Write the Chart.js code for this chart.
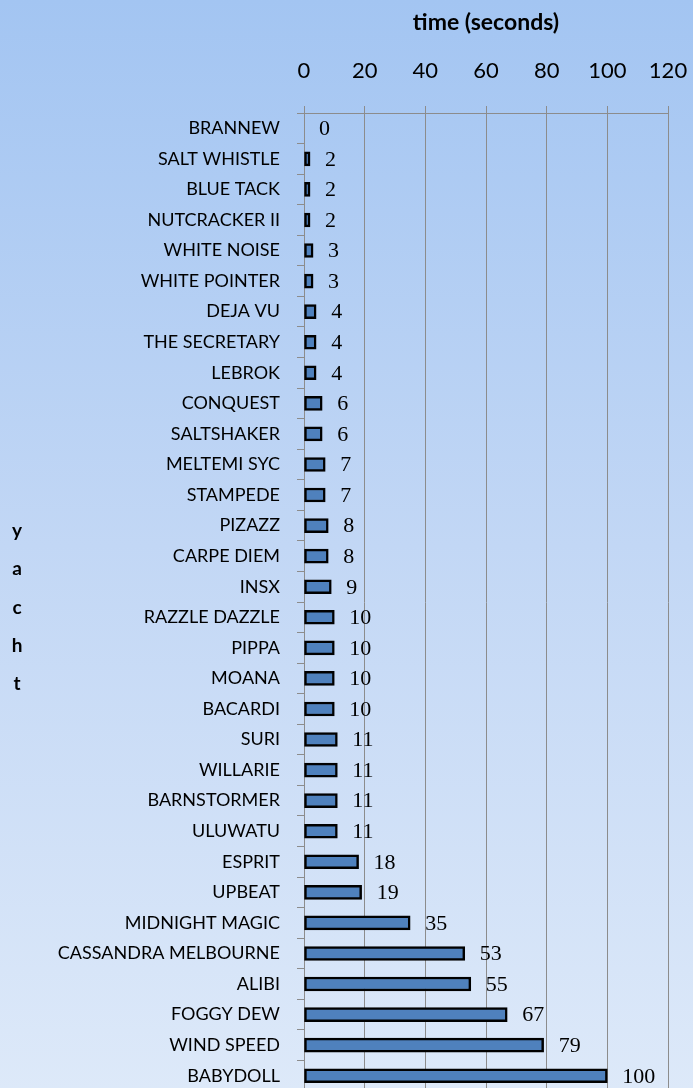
<!DOCTYPE html>
<html>
<head>
<meta charset="utf-8">
<script src="https://cdn.jsdelivr.net/npm/chart.js@4"></script>
<style>
  html, body { margin: 0; padding: 0; overflow: hidden; }
  #chart { display: block; background: linear-gradient(to bottom, #a3c5f2 0%, #c2d7f5 50%, #dde9f9 100%); }
</style>
</head>
<body>
<canvas id="chart" width="693" height="1091"></canvas>
<script>
var yachts = ['BRANNEW', 'SALT WHISTLE', 'BLUE TACK', 'NUTCRACKER II', 'WHITE NOISE', 'WHITE POINTER',
    'DEJA VU', 'THE SECRETARY', 'LEBROK', 'CONQUEST', 'SALTSHAKER', 'MELTEMI SYC', 'STAMPEDE',
    'PIZAZZ', 'CARPE DIEM', 'INSX', 'RAZZLE DAZZLE', 'PIPPA', 'MOANA', 'BACARDI', 'SURI',
    'WILLARIE', 'BARNSTORMER', 'ULUWATU', 'ESPRIT', 'UPBEAT', 'MIDNIGHT MAGIC',
    'CASSANDRA MELBOURNE', 'ALIBI', 'FOGGY DEW', 'WIND SPEED', 'BABYDOLL'];
var times = [0, 2, 2, 2, 3, 3, 4, 4, 4, 6, 6, 7, 7, 8, 8, 9, 10, 10, 10, 10, 11,
    11, 11, 11, 18, 19, 35, 53, 55, 67, 79, 100];
var xTitle = 'time (seconds)';
var yTitle = ['y', 'a', 'c', 'h', 't'];

// value labels to the right of each bar
var valueLabels = {
    id: 'valueLabels',
    afterDatasetsDraw: function (chart) {
        var ctx = chart.ctx;
        var meta = chart.getDatasetMeta(0);
        ctx.save();
        ctx.font = '22px "Liberation Serif", serif';
        ctx.fillStyle = '#000';
        ctx.textAlign = 'left';
        ctx.textBaseline = 'middle';
        meta.data.forEach(function (bar, i) {
            ctx.fillText(String(times[i]), bar.x + 15, bar.y + 1);
        });
        ctx.restore();
    }
};

// stacked letters for the y axis title
var stackedTitle = {
    id: 'stackedTitle',
    afterDraw: function (chart) {
        var ctx = chart.ctx;
        ctx.save();
        ctx.font = 'bold 19px Lato, sans-serif';
        ctx.fillStyle = '#000';
        ctx.textAlign = 'center';
        ctx.textBaseline = 'alphabetic';
        yTitle.forEach(function (ch, i) {
            ctx.fillText(ch, 17, 537 + i * 38.3);
        });
        ctx.restore();
    }
};

function noPadding(scale) {
    scale.paddingLeft = 0;
    scale.paddingRight = 0;
    scale.paddingTop = 0;
    scale.paddingBottom = 0;
}

var chart = new Chart(document.getElementById('chart'), {
    type: 'bar',
    data: {
        labels: yachts,
        datasets: [{
            label: 'time',
            data: times,
            backgroundColor: '#4f81bd',
            borderColor: '#000000',
            borderWidth: 2.5,
            borderSkipped: false,
            barThickness: 14
        }]
    },
    options: {
        indexAxis: 'y',
        responsive: false,
        animation: false,
        layout: { padding: { top: 0, right: 25, bottom: 0, left: 0 } },
        plugins: {
            legend: { display: false },
            tooltip: { enabled: false }
        },
        scales: {
            x: {
                position: 'top',
                min: 0,
                max: 120,
                afterFit: function (scale) { scale.height = 113; noPadding(scale); },
                ticks: {
                    stepSize: 20,
                    color: '#000',
                    padding: 22,
                    maxRotation: 0,
                    font: { family: 'Lato', size: 22 }
                },
                grid: { color: '#8c8c8c', lineWidth: 1, tickLength: 7 },
                border: { color: '#8c8c8c' },
                title: {
                    display: true,
                    text: xTitle,
                    color: '#000',
                    padding: { top: 9, bottom: 0 },
                    font: { family: 'Lato', size: 23, weight: 'bold' }
                }
            },
            y: {
                afterFit: function (scale) { scale.width = 304; noPadding(scale); },
                ticks: {
                    color: '#000',
                    padding: 17,
                    autoSkip: false,
                    font: { family: 'Lato', size: 18 }
                },
                grid: { drawOnChartArea: false, color: '#8c8c8c', tickLength: 7 },
                border: { color: '#8c8c8c' }
            }
        }
    },
    plugins: [valueLabels, stackedTitle]
});
</script>
</body>
</html>
